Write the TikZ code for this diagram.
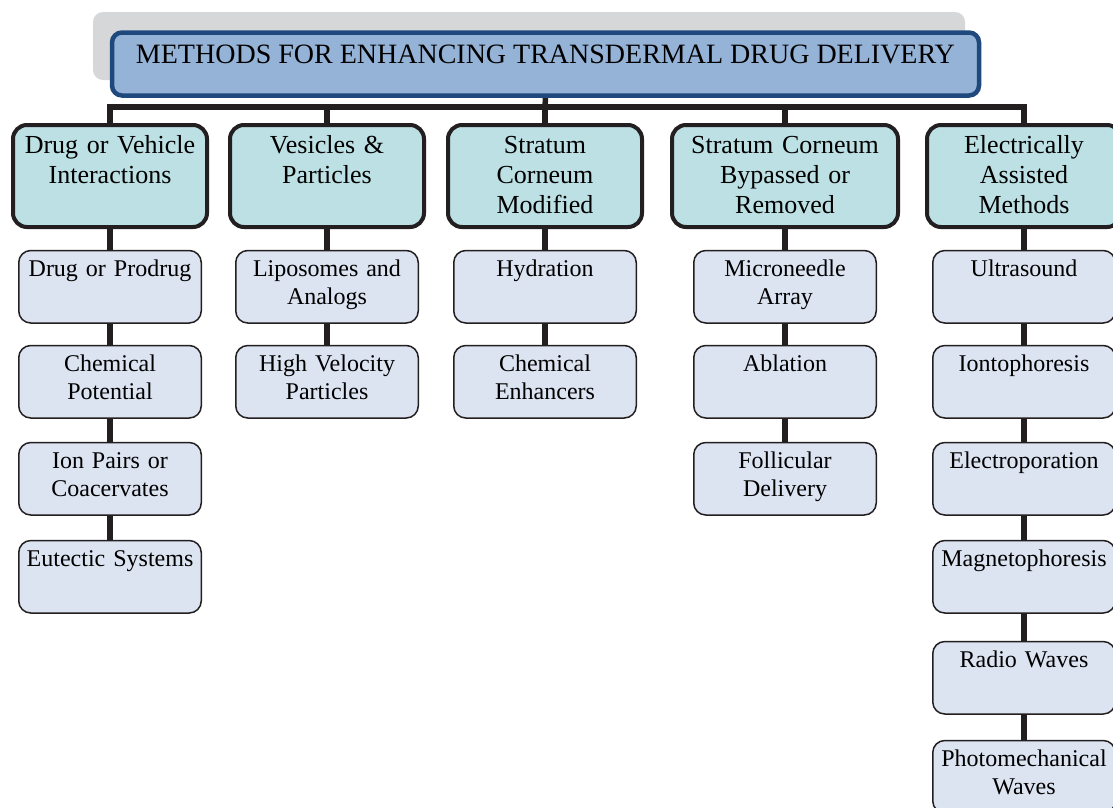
\documentclass[tikz,border=0pt]{standalone}
\usepackage{fontspec}
\setmainfont{Liberation Serif}
\usetikzlibrary{backgrounds}

\definecolor{shadegray}{RGB}{214,215,217}
\definecolor{titlefill}{RGB}{149,179,215}
\definecolor{titleline}{RGB}{31,73,125}
\definecolor{headfill}{RGB}{188,224,227}
\definecolor{subfill}{RGB}{220,227,241}
\definecolor{boxline}{RGB}{35,31,32}

\tikzset{
  titlebox/.style={draw=titleline, line width=4.5pt, fill=titlefill,
    rounded corners=10pt, minimum width=867pt, inner xsep=0pt, inner ysep=0pt,
    text height=31pt, text depth=32pt, font=\fontsize{28}{32}\selectfont,
    anchor=north},
  headbox/.style={draw=boxline, line width=4pt, fill=headfill,
    rounded corners=14pt, text width=#1, align=center, inner xsep=0pt,
    inner ysep=0pt, text height=28.5pt, text depth=73.5pt,
    font=\fontsize{26}{30}\selectfont, anchor=north},
  headbox/.default=194pt,
  subbox/.style={draw=boxline, line width=1.5pt, fill=subfill,
    rounded corners=12pt, text width=182.5pt, align=center, inner xsep=0pt,
    inner ysep=0pt, text height=26pt, text depth=46.5pt,
    font=\fontsize{24}{28}\selectfont, anchor=north},
  link/.style={draw=boxline, line width=5.5pt}
}

\begin{document}
\begin{tikzpicture}[x=1pt, y=-1pt]
% columns
\def\xa{110}
\def\xb{327}
\def\xc{545}
\def\xd{785}
\def\xe{1024}

% rows
\def\yt{30.25}
\def\ybar{107}
\def\yh{123}
\def\ya{249.75}
\def\yb{344.75}
\def\yc{441.75}
\def\yd{539.75}
\def\ye{640.75}
\def\yf{739.75}

\useasboundingbox (0,0) rectangle (1113,807);
\clip (0,0) rectangle (1113,807);

% title
\node[titlebox] (t) at (545.5, \yt) {METHODS FOR ENHANCING TRANSDERMAL DRUG DELIVERY};
\coordinate (bar) at (\xc, \ybar);

% main groups
\node[headbox] (h1) at (\xa, \yh) {Drug or Vehicle\\Interactions};
\node[headbox] (h2) at (\xb, \yh) {Vesicles \&\\Particles};
\node[headbox] (h3) at (\xc, \yh) {Stratum\\Corneum\\Modified};
\node[headbox=226pt] (h4) at (\xd, \yh) {Stratum Corneum\\Bypassed or\\Removed};
\node[headbox] (h5) at (\xe, \yh) {Electrically\\Assisted\\Methods};

% methods
\node[subbox] (a1) at (\xa, \ya) {Drug or Prodrug};
\node[subbox] (a2) at (\xa, \yb) {Chemical\\Potential};
\node[subbox] (a3) at (\xa, \yc) {Ion Pairs or\\Coacervates};
\node[subbox] (a4) at (\xa, \yd) {Eutectic Systems};

\node[subbox] (b1) at (\xb, \ya) {Liposomes and\\Analogs};
\node[subbox] (b2) at (\xb, \yb) {High Velocity\\Particles};

\node[subbox] (c1) at (\xc, \ya) {Hydration};
\node[subbox] (c2) at (\xc, \yb) {Chemical\\Enhancers};

\node[subbox] (d1) at (\xd, \ya) {Microneedle\\Array};
\node[subbox] (d2) at (\xd, \yb) {Ablation};
\node[subbox] (d3) at (\xd, \yc) {Follicular\\Delivery};

\node[subbox] (e1) at (\xe, \ya) {Ultrasound};
\node[subbox] (e2) at (\xe, \yb) {Iontophoresis};
\node[subbox] (e3) at (\xe, \yc) {Electroporation};
\node[subbox] (e4) at (\xe, \yd) {Magnetophoresis};
\node[subbox] (e5) at (\xe, \ye) {Radio Waves};
\node[subbox] (e6) at (\xe, \yf) {Photomechanical\\Waves};

\begin{scope}[on background layer]
\fill[shadegray, rounded corners=10pt] (93,12) rectangle (965,80);

\draw[link] (t.south) -- (bar);
\foreach \i in {1,...,5}
  \draw[link] (h\i.north) |- (bar);

\draw[link] (h1) -- (a1) -- (a2) -- (a3) -- (a4);
\draw[link] (h2) -- (b1) -- (b2);
\draw[link] (h3) -- (c1) -- (c2);
\draw[link] (h4) -- (d1) -- (d2) -- (d3);
\draw[link] (h5) -- (e1) -- (e2) -- (e3) -- (e4) -- (e5) -- (e6);
\end{scope}

\end{tikzpicture}
\end{document}
